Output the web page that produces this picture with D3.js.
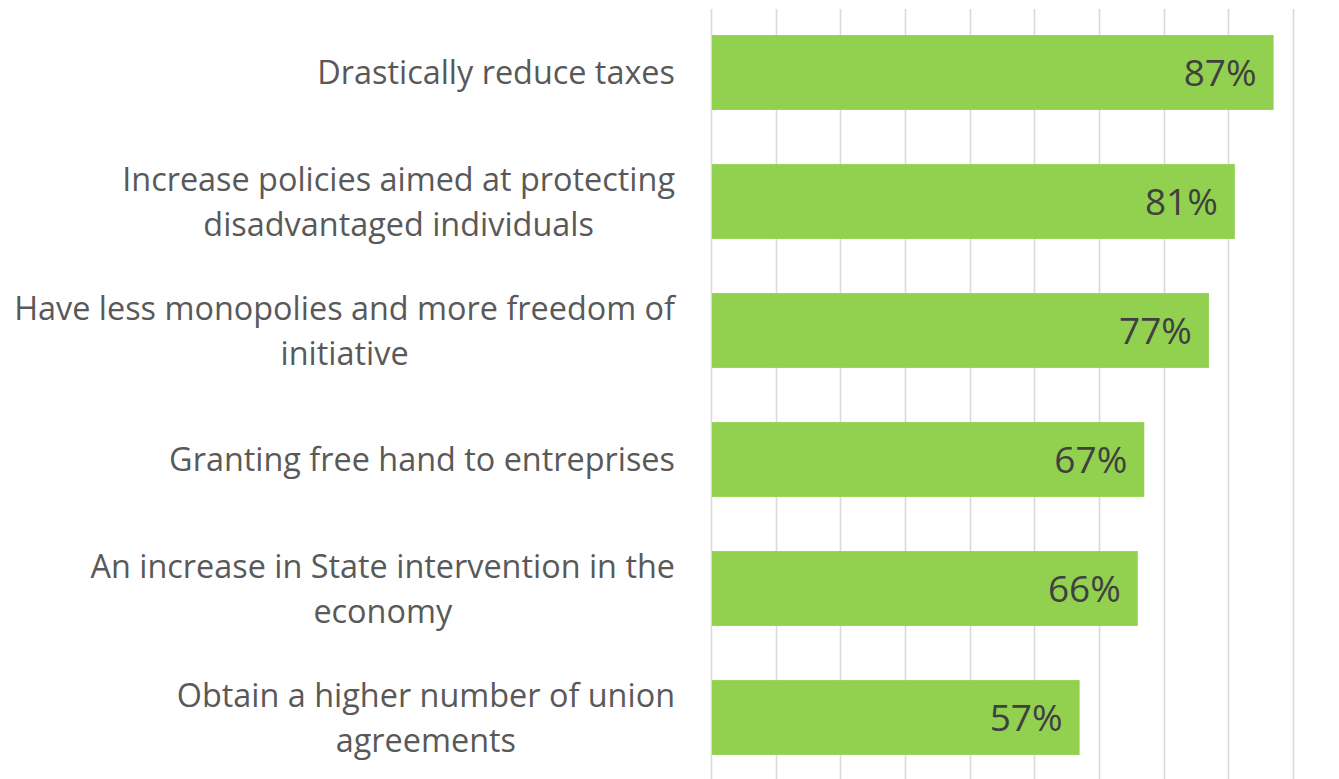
<!DOCTYPE html>
<html>
<head>
<meta charset="utf-8">
<script src="https://cdn.jsdelivr.net/npm/d3@7/dist/d3.min.js"></script>
<style>
  html, body { margin: 0; padding: 0; background: #ffffff; }
  svg { display: block; }
</style>
</head>
<body>
<svg id="chart" width="1339" height="779"></svg>
<script>
// Share of respondents in favour of each measure
const categories = [
  "Drastically reduce taxes",
  "Increase policies aimed at protecting disadvantaged individuals",
  "Have less monopolies and more freedom of initiative",
  "Granting free hand to entreprises",
  "An increase in State intervention in the economy",
  "Obtain a higher number of union agreements"
];
const labelLines = [
  ["Drastically reduce taxes"],
  ["Increase policies aimed at protecting", "disadvantaged individuals"],
  ["Have less monopolies and more freedom of", "initiative"],
  ["Granting free hand to entreprises"],
  ["An increase in State intervention in the", "economy"],
  ["Obtain a higher number of union", "agreements"]
];
const values = [87, 81, 77, 67, 66, 57];
const gridTicks = [0, 10, 20, 30, 40, 50, 60, 70, 80, 90];

const svg = d3.select("#chart");

const x = d3.scaleLinear().domain([0, 90]).range([711, 1293]);
const y = d3.scaleBand()
  .domain(categories)
  .range([8, 782])
  .paddingInner(0.42)
  .paddingOuter(0.21);

// vertical gridlines
svg.append("g")
  .selectAll("line")
  .data(gridTicks)
  .join("line")
  .attr("x1", d => Math.round(x(d)) + 0.5)
  .attr("x2", d => Math.round(x(d)) + 0.5)
  .attr("y1", 9)
  .attr("y2", 782)
  .attr("stroke", "#d9d9d9")
  .attr("stroke-width", 1.6);

// bars
svg.append("g")
  .selectAll("rect")
  .data(values)
  .join("rect")
  .attr("x", x(0) + 1)
  .attr("y", (d, i) => y(categories[i]))
  .attr("width", d => x(d) - x(0) - 1)
  .attr("height", y.bandwidth())
  .attr("fill", "#92d050");

// value labels inside the bar end
svg.append("g")
  .selectAll("text")
  .data(values)
  .join("text")
  .attr("x", d => x(d) - 17)
  .attr("y", (d, i) => y(categories[i]) + y.bandwidth() / 2)
  .attr("dy", "0.36em")
  .attr("text-anchor", "end")
  .attr("font-family", "'Open Sans', sans-serif")
  .attr("font-size", 37)
  .attr("fill", "#404040")
  .text(d => d + "%");

// category labels, right-aligned block with centred lines
const labelRight = 675;
const lineH = 45;
const labels = svg.append("g")
  .attr("font-family", "'Open Sans', sans-serif")
  .attr("font-size", 32.4)
  .attr("fill", "#595959");

categories.forEach((c, i) => {
  const lines = labelLines[i];
  const cy = y(c) + y.bandwidth() / 2;
  const t = labels.append("text")
    .attr("text-anchor", "middle");
  const spans = lines.map((ln, k) =>
    t.append("tspan")
      .attr("y", cy + (k - (lines.length - 1) / 2) * lineH)
      .attr("dy", "0.36em")
      .text(ln)
  );
  const maxW = d3.max(spans, s => s.node().getComputedTextLength());
  spans.forEach(s => s.attr("x", labelRight - maxW / 2));
});
</script>
</body>
</html>
